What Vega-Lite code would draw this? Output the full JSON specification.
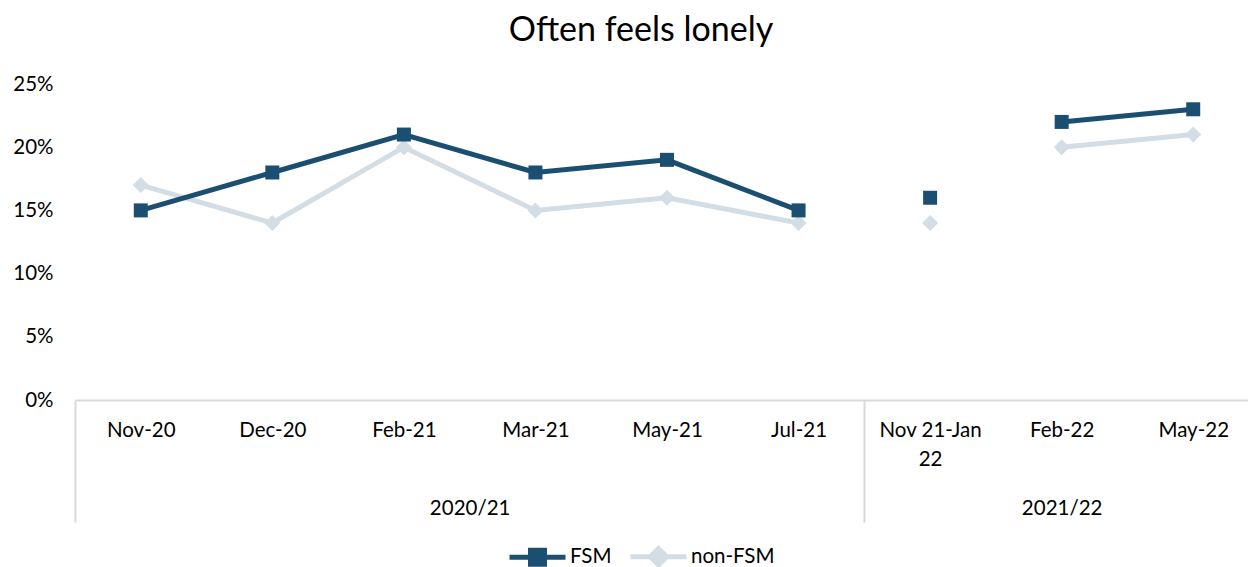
{
  "$schema": "https://vega.github.io/schema/vega-lite/v6.json",
  "width": 1184,
  "height": 316,
  "autosize": "none",
  "padding": {"left": 75, "top": 84, "right": 0, "bottom": 167},
  "background": "white",
  "config": {
    "view": {"stroke": null},
    "font": "Lato"
  },
  "title": {
    "text": "Often feels lonely",
    "fontSize": 34,
    "font": "Lato",
    "fontWeight": "normal",
    "color": "#000000",
    "anchor": "middle",
    "dx": -26,
    "offset": 26
  },
  "resolve": {"scale": {"x": "independent"}, "axis": {"x": "independent"}},
  "layer": [
    {
      "data": {"values": [
        {"group": "2020/21", "mid": 3},
        {"group": "2021/22", "mid": 7.5}
      ]},
      "mark": {"type": "point", "opacity": 0},
      "encoding": {
        "x": {
          "field": "mid",
          "type": "quantitative",
          "scale": {"domain": [0, 9], "nice": false, "zero": false},
          "axis": {
            "orient": "bottom",
            "title": null,
            "values": [0, 3, 6, 7.5, 9],
            "labelExpr": "datum.value == 3 ? '2020/21' : (datum.value == 7.5 ? '2021/22' : '')",
            "domain": false,
            "grid": false,
            "ticks": true,
            "tickSize": 122,
            "tickWidth": 2,
            "tickColor": "#D9D9D9",
            "tickOpacity": {"condition": {"test": "datum.value == 3 || datum.value == 7.5", "value": 0}, "value": 1},
            "labelPadding": -24,
            "labelFontSize": 20.5,
            "labelFont": "Lato",
            "labelColor": "#000000",
            "labelOverlap": false,
            "labelBound": false,
            "labelFlush": false
          }
        }
      }
    },
    {
      "data": {"values": [
        {"period": "Nov-20", "series": "FSM", "value": 0.15, "seg": "a"},
        {"period": "Dec-20", "series": "FSM", "value": 0.18, "seg": "a"},
        {"period": "Feb-21", "series": "FSM", "value": 0.21, "seg": "a"},
        {"period": "Mar-21", "series": "FSM", "value": 0.18, "seg": "a"},
        {"period": "May-21", "series": "FSM", "value": 0.19, "seg": "a"},
        {"period": "Jul-21", "series": "FSM", "value": 0.15, "seg": "a"},
        {"period": "Nov 21-Jan 22", "series": "FSM", "value": 0.16, "seg": "b"},
        {"period": "Feb-22", "series": "FSM", "value": 0.22, "seg": "c"},
        {"period": "May-22", "series": "FSM", "value": 0.23, "seg": "c"},
        {"period": "Nov-20", "series": "non-FSM", "value": 0.17, "seg": "a"},
        {"period": "Dec-20", "series": "non-FSM", "value": 0.14, "seg": "a"},
        {"period": "Feb-21", "series": "non-FSM", "value": 0.20, "seg": "a"},
        {"period": "Mar-21", "series": "non-FSM", "value": 0.15, "seg": "a"},
        {"period": "May-21", "series": "non-FSM", "value": 0.16, "seg": "a"},
        {"period": "Jul-21", "series": "non-FSM", "value": 0.14, "seg": "a"},
        {"period": "Nov 21-Jan 22", "series": "non-FSM", "value": 0.14, "seg": "b"},
        {"period": "Feb-22", "series": "non-FSM", "value": 0.20, "seg": "c"},
        {"period": "May-22", "series": "non-FSM", "value": 0.21, "seg": "c"}
      ]},
      "encoding": {
        "x": {
          "field": "period",
          "type": "ordinal",
          "sort": ["Nov-20", "Dec-20", "Feb-21", "Mar-21", "May-21", "Jul-21", "Nov 21-Jan 22", "Feb-22", "May-22"],
          "scale": {"type": "point", "padding": 0.5},
          "axis": {
            "orient": "bottom",
            "title": null,
            "labelAngle": 0,
            "domain": true,
            "domainColor": "#D9D9D9",
            "domainWidth": 2,
            "ticks": false,
            "grid": false,
            "labelPadding": 20,
            "labelFontSize": 20.5,
            "labelFont": "Lato",
            "labelColor": "#000000",
            "labelLineHeight": 29,
            "labelOverlap": false,
            "labelExpr": "datum.value == 'Nov 21-Jan 22' ? ['Nov 21-Jan', '22'] : datum.value"
          }
        },
        "y": {
          "field": "value",
          "type": "quantitative",
          "scale": {"domain": [0, 0.25], "nice": false},
          "axis": {
            "title": null,
            "values": [0, 0.05, 0.1, 0.15, 0.2, 0.25],
            "format": ".0%",
            "domain": false,
            "ticks": false,
            "grid": false,
            "labelPadding": 22,
            "labelFontSize": 20.5,
            "labelFont": "Lato",
            "labelColor": "#000000"
          }
        },
        "color": {
          "field": "series",
          "type": "nominal",
          "scale": {"domain": ["FSM", "non-FSM"], "range": ["#1B4F72", "#D3DDE5"]},
          "legend": {
            "title": null,
            "orient": "none",
            "direction": "horizontal",
            "legendX": 432,
            "legendY": 442,
            "labelFontSize": 20.5,
            "labelFont": "Lato",
            "labelColor": "#000000",
            "labelOffset": 2,
            "columnPadding": 8,
            "symbolSize": 3136,
            "symbolStrokeWidth": 5,
            "symbolType": "M-1,0H1M-0.25,-0.25H0.25V0.25H-0.25Z",
            "encode": {
              "symbols": {
                "update": {
                  "shape": {"signal": "datum.value === 'FSM' ? 'M-1,0H1M-0.25,-0.25H0.25V0.25H-0.25Z' : 'M-1,0H1M0,-0.29L0.29,0L0,0.29L-0.29,0Z'"},
                  "fill": {"signal": "scale('color', datum.value)"},
                  "stroke": {"signal": "scale('color', datum.value)"},
                  "strokeWidth": {"value": 5},
                  "opacity": {"value": 1},
                  "fillOpacity": {"value": 1}
                }
              }
            }
          }
        },
        "detail": {"field": "seg", "type": "nominal"}
      },
      "layer": [
        {
          "transform": [{"filter": "datum.series == 'non-FSM'"}],
          "mark": {"type": "line", "strokeWidth": 5}
        },
        {
          "transform": [{"filter": "datum.series == 'non-FSM'"}],
          "mark": {"type": "point", "shape": "diamond", "filled": true, "size": 256, "opacity": 1}
        },
        {
          "transform": [{"filter": "datum.series == 'FSM'"}],
          "mark": {"type": "line", "strokeWidth": 5}
        },
        {
          "transform": [{"filter": "datum.series == 'FSM'"}],
          "mark": {"type": "point", "shape": "square", "filled": true, "size": 196, "opacity": 1}
        }
      ]
    }
  ]
}
